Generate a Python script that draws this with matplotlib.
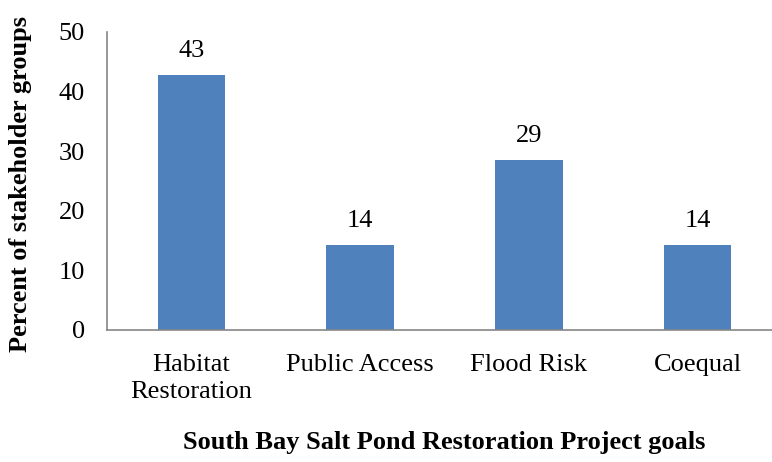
import matplotlib.pyplot as plt

# Anteil der Stakeholder-Gruppen je Projektziel (7 Gruppen)
goals = ["Habitat\nRestoration", "Public Access", "Flood Risk", "Coequal"]
percent = [42.86, 14.29, 28.57, 14.29]
y_ticks = [0, 10, 20, 30, 40, 50]

plt.rcParams['font.family'] = ['Liberation Serif', 'DejaVu Serif']

fig = plt.figure(figsize=(7.72, 4.62), dpi=100)
ax = fig.add_axes([107 / 772, 132 / 462, 665 / 772, 298 / 462])

x = range(len(goals))
bars = ax.bar(x, percent, width=0.4, color="#4F81BD")
ax.bar_label(bars, fmt="%.0f", padding=9, fontsize=19)

ax.set_xlim(-0.5, 3.44)
ax.set_ylim(0, 50)
ax.set_yticks(y_ticks)
ax.set_xticks(list(x))
ax.set_xticklabels(goals, fontsize=19, linespacing=1.3)
ax.tick_params(axis="y", labelsize=19, length=0, pad=16)
ax.tick_params(axis="x", length=0, pad=17)

for side in ["top", "right"]:
    ax.spines[side].set_visible(False)
for side in ["left", "bottom"]:
    ax.spines[side].set_color("#868686")
    ax.spines[side].set_linewidth(1.2)

ax.set_ylabel("Percent of stakeholder groups", fontsize=19, fontweight="bold", va="center")
ax.yaxis.set_label_coords((21 - 107) / 665, (462 - 184 - 132) / 298)

ax.set_xlabel("South Bay Salt Pond Restoration Project goals", fontsize=19, fontweight="bold", va="center")
ax.xaxis.set_label_coords((444 - 107) / 665, (462 - 443 - 132) / 298)

fig.savefig("out.png", dpi=100)
